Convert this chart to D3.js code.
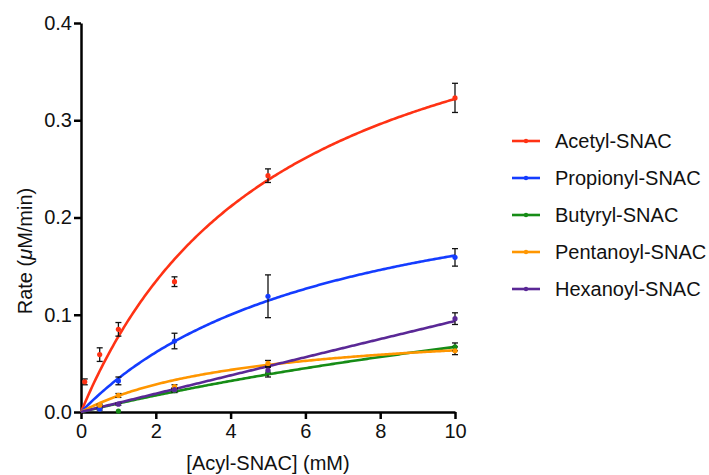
<!DOCTYPE html>
<html lang="en">
<head>
<meta charset="UTF-8">
<title>Acyl-SNAC kinetics</title>
<script src="https://d3js.org/d3.v7.min.js"></script>
<style>
    body { margin: 0; background: #fff; }
    svg text { font-family: "Liberation Sans", Arial, sans-serif; fill: #111; }
    .axis path, .axis line { stroke: #000; }
</style>
</head>
<body>
<svg id="chart" width="709" height="475"></svg>
<script>
    const width = 709, height = 475;
    const margin = { left: 81, right: 254, top: 23, bottom: 63 };

    // series names and colours
    const seriesNames = ["Acetyl-SNAC", "Propionyl-SNAC", "Butyryl-SNAC", "Pentanoyl-SNAC", "Hexanoyl-SNAC"];
    const seriesColors = ["#ff3214", "#143cff", "#168c16", "#ff9600", "#5a2896"];

    // measured points (mM, uM/min) and error (SEM)
    const acetylX = [0.1, 0.5, 1, 2.5, 5, 10];
    const acetylY = [0.031, 0.059, 0.085, 0.134, 0.243, 0.323];
    const acetylErr = [0.003, 0.007, 0.007, 0.005, 0.007, 0.015];

    const propionylX = [0.5, 1, 2.5, 5, 10];
    const propionylY = [0.003, 0.032, 0.073, 0.119, 0.159];
    const propionylErr = [0.001, 0.004, 0.008, 0.022, 0.009];

    const butyrylX = [1, 2.5, 5, 10];
    const butyrylY = [0.001, 0.022, 0.041, 0.067];
    const butyrylErr = [0.0, 0.002, 0.005, 0.004];

    const pentanoylX = [0.5, 1, 2.5, 5, 10];
    const pentanoylY = [0.007, 0.017, 0.026, 0.050, 0.063];
    const pentanoylErr = [0.001, 0.002, 0.002, 0.003, 0.004];

    const hexanoylX = [1, 2.5, 5, 10];
    const hexanoylY = [0.008, 0.023, 0.043, 0.096];
    const hexanoylErr = [0.001, 0.002, 0.003, 0.006];

    // Michaelis-Menten fit parameters (Vmax, Km) for each series
    const fitVmax = [0.495, 0.271, 0.249, 0.092, 9.45];
    const fitKm = [5.375, 6.84, 27.2, 4.5, 1000];

    const xTicks = [0, 2, 4, 6, 8, 10];
    const yTicks = [0.0, 0.1, 0.2, 0.3, 0.4];

    const series = [
        [acetylX, acetylY, acetylErr],
        [propionylX, propionylY, propionylErr],
        [butyrylX, butyrylY, butyrylErr],
        [pentanoylX, pentanoylY, pentanoylErr],
        [hexanoylX, hexanoylY, hexanoylErr]
    ].map(([xs, ys, es], i) => ({
        name: seriesNames[i],
        color: seriesColors[i],
        vmax: fitVmax[i],
        km: fitKm[i],
        points: xs.map((x, j) => ({ x: x, y: ys[j], e: es[j] }))
    }));

    const svg = d3.select("#chart");
    const x = d3.scaleLinear().domain([0, 10]).range([margin.left, width - margin.right]);
    const y = d3.scaleLinear().domain([0, 0.4]).range([height - margin.bottom, margin.top]);

    // axes
    const xAxis = svg.append("g").attr("class", "axis")
        .attr("transform", `translate(0,${y(0)})`)
        .call(d3.axisBottom(x).tickValues(xTicks).tickSize(7).tickSizeOuter(0).tickFormat(d3.format("d")));
    const yAxis = svg.append("g").attr("class", "axis")
        .attr("transform", `translate(${x(0)},0)`)
        .call(d3.axisLeft(y).tickValues(yTicks).tickSize(7).tickSizeOuter(0).tickFormat(d3.format(".1f")));

    [xAxis, yAxis].forEach(g => {
        g.select(".domain").attr("stroke-width", 2.5);
        g.selectAll(".tick line").attr("stroke-width", 2.5);
        g.selectAll(".tick text").attr("font-size", 20).style("font-family", "Liberation Sans, Arial, sans-serif");
    });
    xAxis.selectAll(".tick text").attr("y", 12);
    yAxis.selectAll(".tick text").attr("x", -9);

    // axis titles
    svg.append("text")
        .attr("x", 268).attr("y", 470)
        .attr("text-anchor", "middle").attr("font-size", 20)
        .text("[Acyl-SNAC] (mM)");

    const yTitle = svg.append("text")
        .attr("transform", "translate(32,251) rotate(-90)")
        .attr("text-anchor", "middle").attr("font-size", 20);
    yTitle.append("tspan").text("Rate (");
    yTitle.append("tspan").attr("font-style", "italic").text("\u03bc");
    yTitle.append("tspan").text("M/min)");

    // fitted curves
    const line = d3.line().x(d => x(d[0])).y(d => y(d[1]));
    const xs = d3.range(0, 10.001, 0.05);
    const plot = svg.append("g");

    series.forEach(s => {
        plot.append("path")
            .datum(xs.map(v => [v, s.vmax * v / (s.km + v)]))
            .attr("fill", "none")
            .attr("stroke", s.color)
            .attr("stroke-width", 2.6)
            .attr("d", line);
    });

    // error bars
    series.forEach(s => {
        const g = plot.append("g");
        s.points.filter(p => p.e > 0).forEach(p => {
            const cx = x(p.x);
            g.append("line").attr("x1", cx).attr("x2", cx)
                .attr("y1", y(p.y - p.e)).attr("y2", y(p.y + p.e))
                .attr("stroke", "#111").attr("stroke-width", 1.3);
            [p.y - p.e, p.y + p.e].forEach(v => {
                g.append("line").attr("x1", cx - 3).attr("x2", cx + 3)
                    .attr("y1", y(v)).attr("y2", y(v))
                    .attr("stroke", "#111").attr("stroke-width", 1.3);
            });
        });
    });

    // points
    series.forEach(s => {
        plot.append("g").selectAll("circle")
            .data(s.points)
            .enter().append("circle")
            .attr("cx", d => x(d.x))
            .attr("cy", d => y(d.y))
            .attr("r", 2.6)
            .attr("fill", s.color);
    });

    // legend
    const legend = svg.append("g").attr("transform", "translate(512,141)");
    series.forEach((s, i) => {
        const row = legend.append("g").attr("transform", `translate(0,${i * 37})`);
        row.append("line").attr("x1", 0).attr("x2", 28).attr("y1", 0).attr("y2", 0)
            .attr("stroke", s.color).attr("stroke-width", 2.6);
        row.append("circle").attr("cx", 14).attr("cy", 0).attr("r", 2.2).attr("fill", s.color);
        row.append("text").attr("x", 43).attr("y", 7).attr("font-size", 20).text(s.name);
    });
</script>
</body>
</html>
